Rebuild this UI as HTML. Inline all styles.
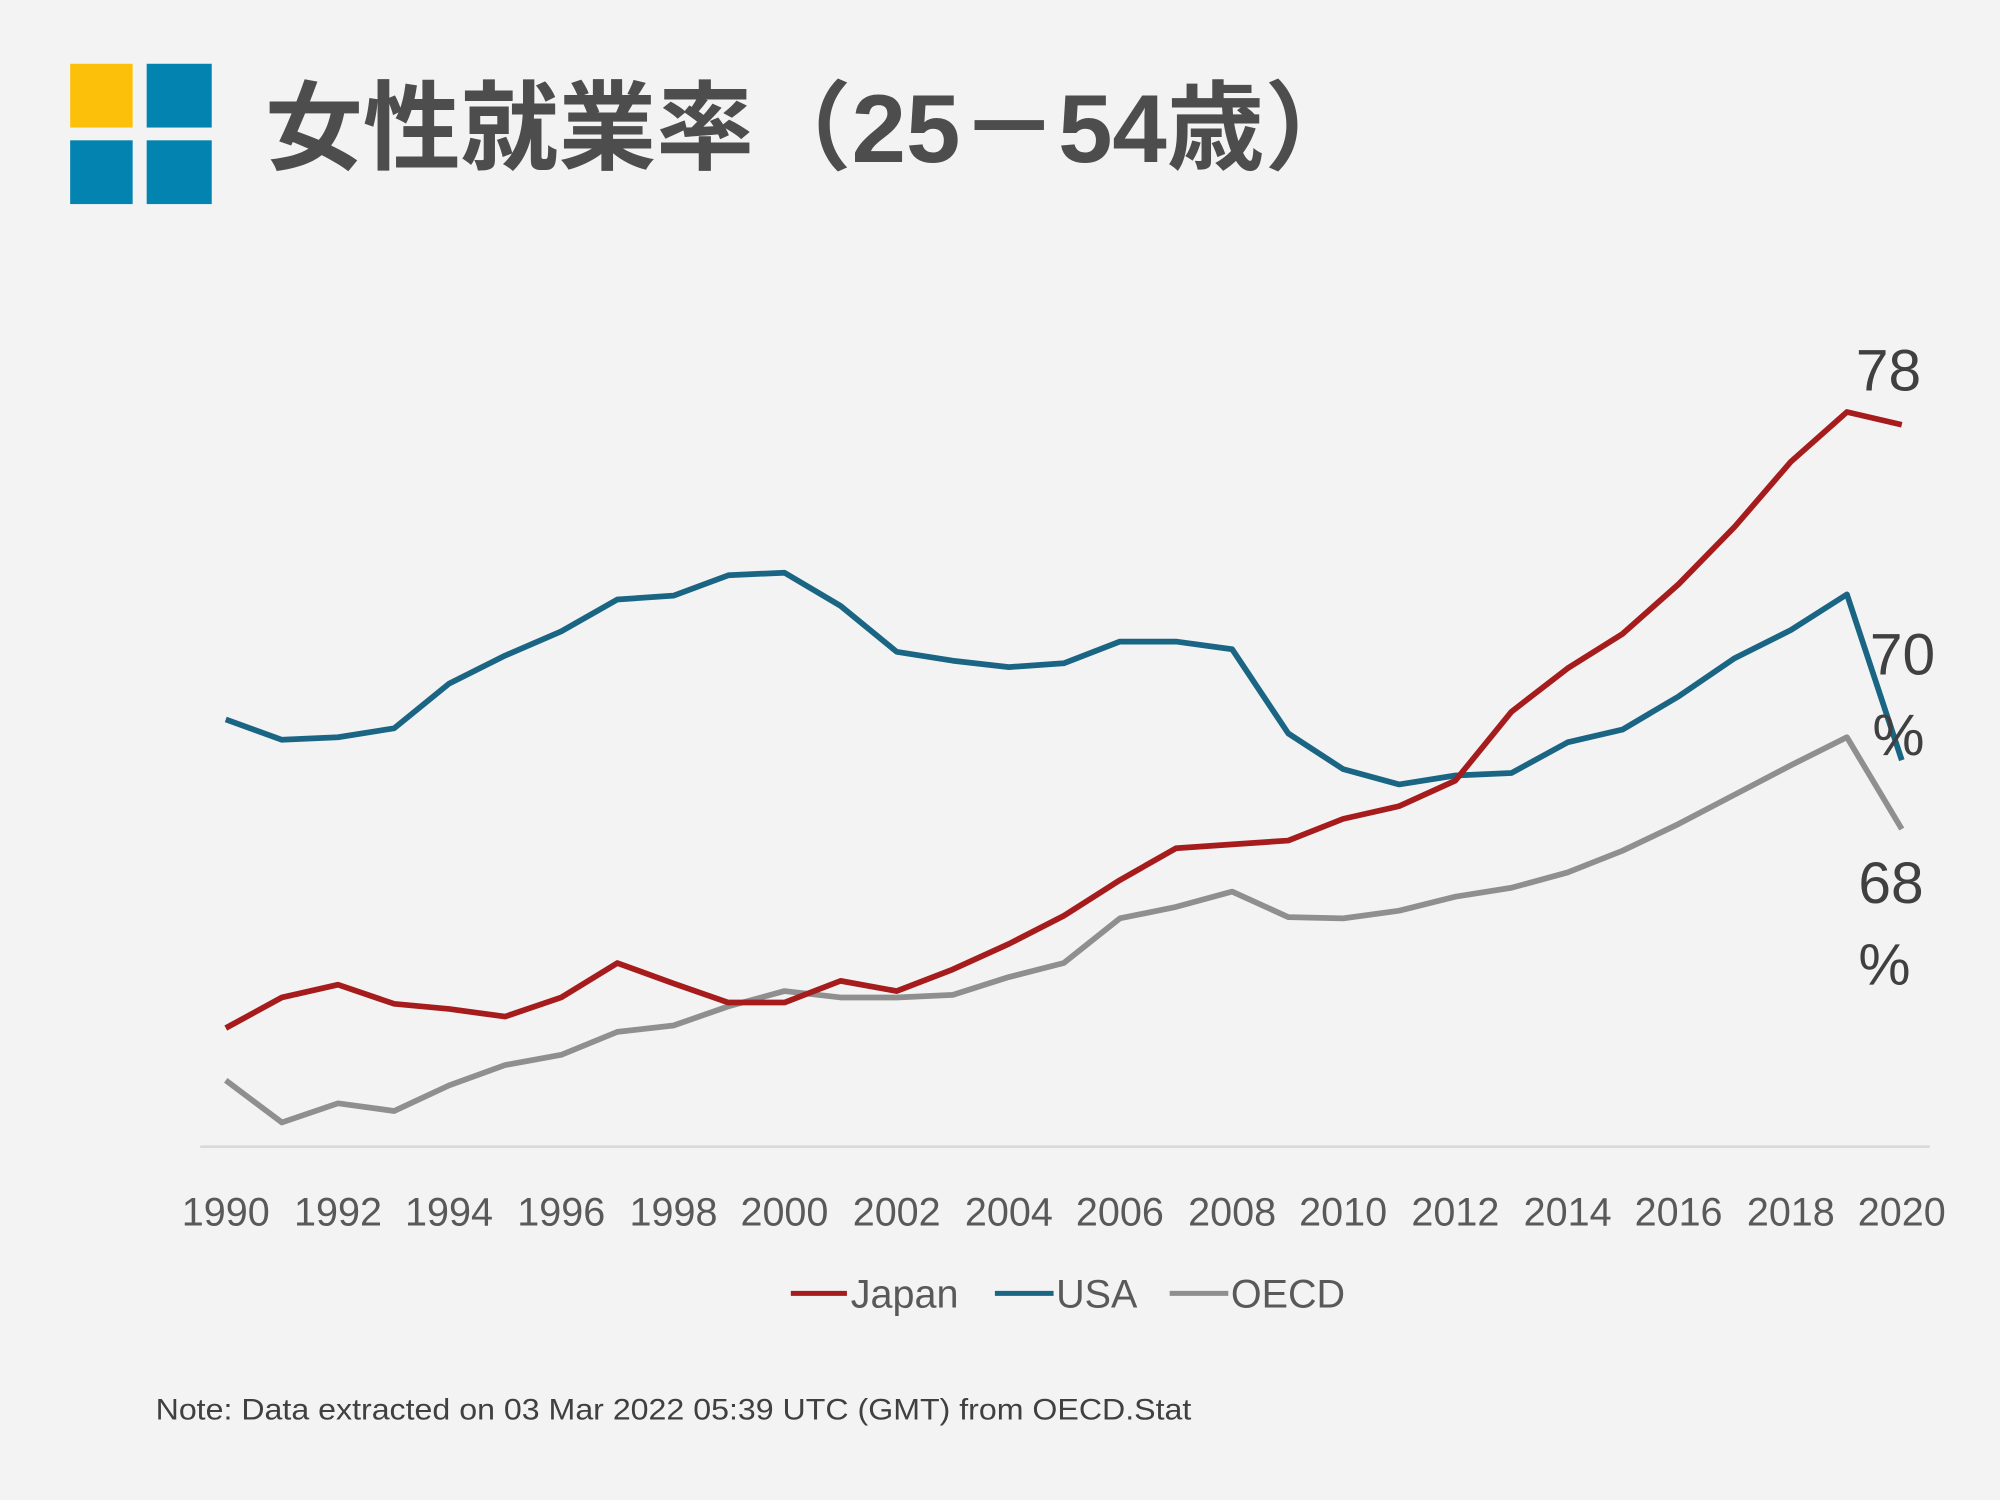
<!DOCTYPE html>
<html><head><meta charset="utf-8"><style>html,body{margin:0;padding:0;background:#f3f3f3}svg{display:block}</style></head>
<body>
<svg width="2000" height="1500" viewBox="0 0 1568 1176" preserveAspectRatio="none" xmlns="http://www.w3.org/2000/svg">
<rect width="1568" height="1176" fill="#f3f3f3"/>
<rect x="55" y="50" width="49" height="50" fill="#fcc00a"/>
<rect x="115" y="50" width="51" height="50" fill="#0383b0"/>
<rect x="55" y="110" width="49" height="50" fill="#0383b0"/>
<rect x="115" y="110" width="51" height="50" fill="#0383b0"/>
<text x="208" y="127" font-family="'Liberation Sans','Noto Sans CJK JP',sans-serif" font-weight="bold" font-size="76" fill="#4d4d4d" textLength="860" lengthAdjust="spacingAndGlyphs">女性就業率（25－54歳）</text>
<line x1="157" y1="899" x2="1513" y2="899" stroke="#d9d9d9" stroke-width="2"/>
<g font-family="'Liberation Sans','Noto Sans CJK JP',sans-serif" font-size="31" fill="#595959" text-anchor="middle">
<text x="177" y="961">1990</text><text x="265" y="961">1992</text><text x="352" y="961">1994</text><text x="440" y="961">1996</text><text x="528" y="961">1998</text><text x="615" y="961">2000</text><text x="703" y="961">2002</text><text x="791" y="961">2004</text><text x="878" y="961">2006</text><text x="966" y="961">2008</text><text x="1053" y="961">2010</text><text x="1141" y="961">2012</text><text x="1229" y="961">2014</text><text x="1316" y="961">2016</text><text x="1404" y="961">2018</text><text x="1491" y="961">2020</text>
</g>
<g fill="none" stroke-width="4.5" stroke-linejoin="round">
<polyline stroke="#8f8f8f" points="177,847 221,880 265,865 309,871 352,851 396,835 440,827 484,809 528,804 571,789 615,777 659,782 703,782 747,780 791,766 834,755 878,720 922,711 966,699 1010,719 1053,720 1097,714 1141,703 1185,696 1229,684 1272,667 1316,646 1360,623 1404,600 1448,578 1491,650"/>
<polyline stroke="#1a6584" points="177,564 221,580 265,578 309,571 352,536 396,514 440,495 484,470 528,467 571,451 615,449 659,475 703,511 747,518 791,523 834,520 878,503 922,503 966,509 1010,575 1053,603 1097,615 1141,608 1185,606 1229,582 1272,572 1316,546 1360,516 1404,494 1448,466 1491,596"/>
<polyline stroke="#a61b1b" points="177,806 221,782 265,772 309,787 352,791 396,797 440,782 484,755 528,771 571,786 615,786 659,769 703,777 747,760 791,740 834,718 878,690 922,665 966,662 1010,659 1053,642 1097,632 1141,612 1185,558 1229,524 1272,497 1316,458 1360,413 1404,362 1448,323 1491,333"/>
</g>
<g font-family="'Liberation Sans',sans-serif" font-size="46" fill="#404040">
<text x="1455" y="306">78</text>
<text x="1466" y="529">70</text>
<text x="1468" y="592">%</text>
<text x="1457" y="708">68</text>
<text x="1457" y="772">%</text>
</g>
<g font-family="'Liberation Sans',sans-serif" font-size="31" fill="#595959">
<line x1="620" y1="1014" x2="664" y2="1014" stroke="#a61b1b" stroke-width="4"/>
<text x="667" y="1025">Japan</text>
<line x1="780" y1="1014" x2="826" y2="1014" stroke="#1a6584" stroke-width="4"/>
<text x="828" y="1025">USA</text>
<line x1="917" y1="1014" x2="963" y2="1014" stroke="#8f8f8f" stroke-width="4"/>
<text x="965" y="1025">OECD</text>
</g>
<text x="122" y="1113" font-family="'Liberation Sans',sans-serif" font-size="23" fill="#404040" textLength="812" lengthAdjust="spacingAndGlyphs">Note: Data extracted on 03 Mar 2022 05:39 UTC (GMT) from OECD.Stat</text>
</svg>
</body></html>
